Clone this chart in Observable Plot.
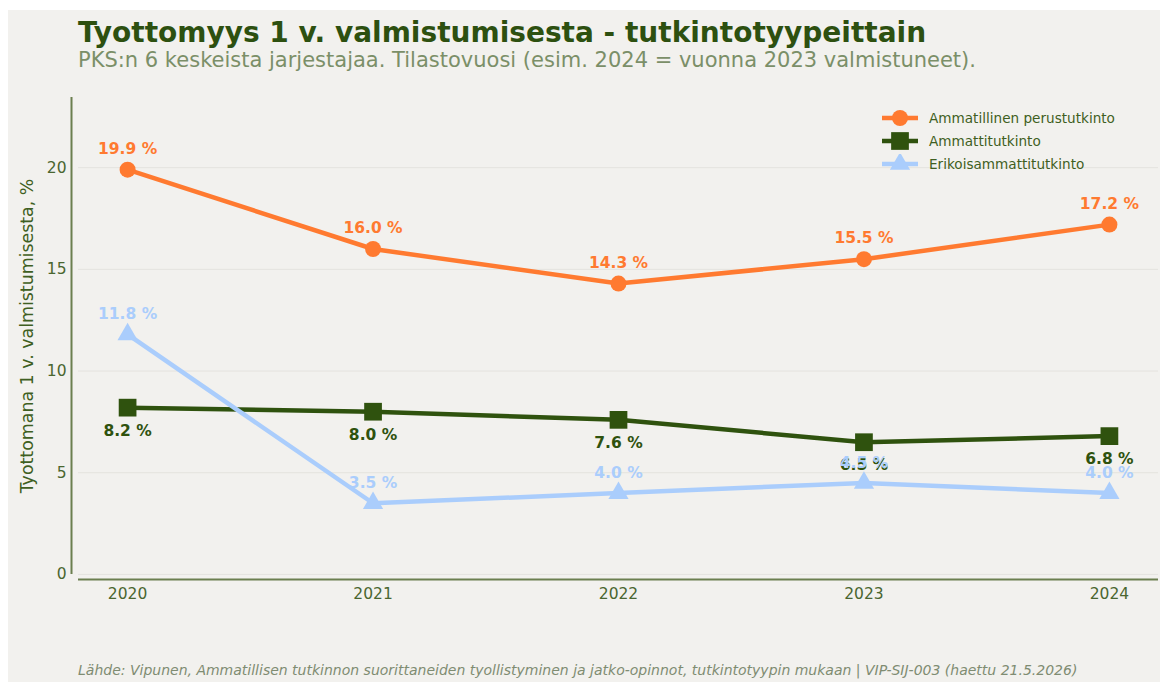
<!DOCTYPE html>
<html>
<head>
<meta charset="utf-8">
<script src="https://cdn.jsdelivr.net/npm/d3@7"></script>
<script src="https://cdn.jsdelivr.net/npm/@observablehq/plot@0.6"></script>
<style>
  html, body { margin: 0; padding: 0; background: #ffffff; }
  body { width: 1163px; height: 682px; position: relative; overflow: hidden; font-family: "DejaVu Sans", sans-serif; }
  #panel { position: absolute; left: 8px; top: 10px; width: 1152px; height: 672px; background: #f2f1ee; }
  #title { position: absolute; left: 78px; top: 19px; font-size: 28px; line-height: 28px; font-weight: bold; color: #2d5010; white-space: nowrap; }
  #subtitle { position: absolute; left: 78px; top: 50px; font-size: 21px; line-height: 21px; color: #7b8f68; white-space: nowrap; }
  #chart { position: absolute; left: 8px; top: 90px; }
  #ylabel { position: absolute; left: 28px; top: 336px; width: 0; height: 0; }
  #ylabel span { position: absolute; left: 0; top: 0; transform: translate(-50%, -50%) rotate(-90deg); font-size: 17.4px; line-height: 17.4px; color: #3f5f22; white-space: nowrap; }
  #footer { position: absolute; left: 78px; top: 663px; font-size: 14px; line-height: 14px; font-style: italic; color: #7f8c72; white-space: nowrap; }
  #legend { position: absolute; left: 882px; top: 106px; }
  .lg { display: flex; align-items: center; height: 23px; font-size: 13.6px; color: #3f5f22; white-space: nowrap; }
  .lg svg { margin-right: 11px; }
</style>
</head>
<body>
<div id="panel"></div>
<div id="title">Tyottomyys 1 v. valmistumisesta - tutkintotyypeittain</div>
<div id="subtitle">PKS:n 6 keskeista jarjestajaa. Tilastovuosi (esim. 2024 = vuonna 2023 valmistuneet).</div>
<div id="chart"></div>
<div id="ylabel"><span></span></div>
<div id="legend"></div>
<div id="footer">Lähde: Vipunen, Ammatillisen tutkinnon suorittaneiden tyollistyminen ja jatko-opinnot, tutkintotyypin mukaan | VIP-SIJ-003 (haettu 21.5.2026)</div>
<script>
// ---- Data ----
const years = [2020, 2021, 2022, 2023, 2024];
const seriesNames = ["Ammatillinen perustutkinto", "Ammattitutkinto", "Erikoisammattitutkinto"];
const perustutkinto = [19.9, 16.0, 14.3, 15.5, 17.2];
const ammattitutkinto = [8.2, 8.0, 7.6, 6.5, 6.8];
const erikoisammattitutkinto = [11.8, 3.5, 4.0, 4.5, 4.0];
const yTicks = [0, 5, 10, 15, 20];
const yLabel = "Tyottomana 1 v. valmistumisesta, %";

// ---- Styles ----
const colors = ["#ff7a30", "#2f520e", "#aacdfc"];
const symbols = ["circle", "square", "triangle"];
const radii = [8, 10, 7.5];
const labelDy = [-21, 23, -20];

const valuesList = [perustutkinto, ammattitutkinto, erikoisammattitutkinto];
const rows = seriesNames.map((name, i) => years.map((yr, j) => ({series: name, year: yr, value: valuesList[i][j]})));

const marks = [
  Plot.gridY(yTicks, {stroke: "#e4e3de", strokeOpacity: 1, strokeWidth: 1}),
  Plot.ruleY([-0.25], {stroke: "#6b7f4f", strokeWidth: 2}),
  Plot.ruleX([2019.8], {y1: 0, y2: 23.45, dx: -7, stroke: "#6b7f4f", strokeWidth: 2}),
  Plot.axisY(yTicks, {tickSize: 0, tickPadding: 12, fontSize: 15.5, fill: "#4a6630", label: null}),
  Plot.axisX(years, {tickSize: 0, tickPadding: 8, fontSize: 15.5, fill: "#4a6630", label: null, tickFormat: d => String(d)})
];
rows.forEach((data, i) => {
  marks.push(Plot.line(data, {x: "year", y: "value", stroke: colors[i], strokeWidth: 4.5}));
});
rows.forEach((data, i) => {
  marks.push(Plot.dot(data, {x: "year", y: "value", symbol: () => symbols[i], r: radii[i], fill: colors[i], stroke: "none"}));
});
rows.forEach((data, i) => {
  marks.push(Plot.text(data, {x: "year", y: "value", text: d => d.value.toFixed(1) + " %", dy: labelDy[i], fill: colors[i], fontSize: 15.5, fontWeight: "bold"}));
});

const chart = Plot.plot({
  width: 1152,
  height: 550,
  marginLeft: 70,
  marginRight: 2,
  marginTop: 7,
  marginBottom: 61,
  style: {background: "transparent", fontFamily: "DejaVu Sans", overflow: "visible"},
  x: {domain: [2019.8, 2024.2], axis: null},
  y: {domain: [-0.25, 23.45], axis: null},
  symbol: {type: "identity"},
  marks
});
document.getElementById("chart").appendChild(chart);
document.querySelector("#ylabel span").textContent = yLabel;

// ---- Legend ----
const legend = document.getElementById("legend");
seriesNames.forEach((name, i) => {
  const row = document.createElement("div");
  row.className = "lg";
  const s = d3.create("svg").attr("width", 36).attr("height", 20);
  s.append("line").attr("x1", 0).attr("x2", 36).attr("y1", 10).attr("y2", 10).attr("stroke", colors[i]).attr("stroke-width", 4.5);
  const symType = [d3.symbolCircle, d3.symbolSquare, d3.symbolTriangle][i];
  s.append("path").attr("transform", "translate(18,10)")
    .attr("d", d3.symbol(symType, Math.PI * radii[i] * radii[i])())
    .attr("fill", colors[i]);
  row.appendChild(s.node());
  const t = document.createElement("span");
  t.textContent = name;
  row.appendChild(t);
  legend.appendChild(row);
});
</script>
</body>
</html>
